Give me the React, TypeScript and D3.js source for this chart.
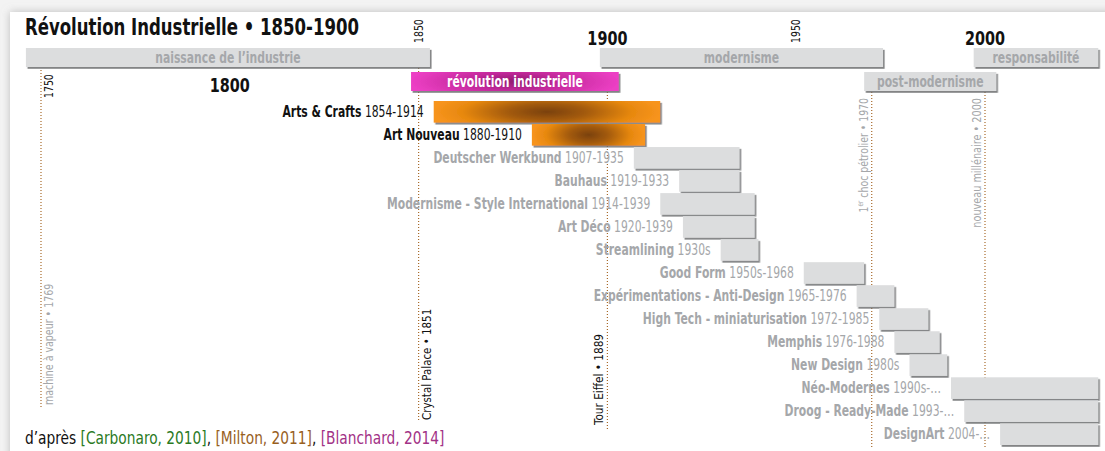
import * as d3 from "d3";
import type { ReactNode } from "react";

const FONT = '"Liberation Sans Narrow", "DejaVu Sans Condensed", "Arial Narrow", sans-serif';
const GREY_TEXT = "#a5a7aa";
const BAR_FILL = "#dcddde";

// époques (bandeaux du haut)
const periodNames = ["naissance de l’industrie", "modernisme", "responsabilité", "révolution industrielle", "post-modernisme"];
const periodStart = [1746, 1898, 1997, 1848, 1968];
const periodEnd = [1853, 1973, 2030, 1903, 2003];
const periodRow = [0, 0, 0, 1, 1];

// mouvements
const movementNames = [
  "Arts & Crafts",
  "Art Nouveau",
  "Deutscher Werkbund",
  "Bauhaus",
  "Modernisme - Style International",
  "Art Déco",
  "Streamlining",
  "Good Form",
  "Expérimentations - Anti-Design",
  "High Tech - miniaturisation",
  "Memphis",
  "New Design",
  "Néo-Modernes",
  "Droog - Ready-Made",
  "DesignArt",
];
const movementDates = [
  "1854-1914", "1880-1910", "1907-1935", "1919-1933", "1914-1939", "1920-1939", "1930s",
  "1950s-1968", "1965-1976", "1972-1985", "1976-1988", "1980s", "1990s-…", "1993-…", "2004-…",
];
const movementStart = [1854, 1880, 1907, 1919, 1914, 1920, 1930, 1952, 1966, 1972, 1976, 1980, 1991, 1994.5, 2004];
const movementEnd = [1914, 1910, 1935, 1935, 1939, 1939, 1940, 1968, 1976, 1985, 1988, 1990, 2030, 2030, 2030];
const highlighted = ["Arts & Crafts", "Art Nouveau"];

// repères
const markerYears = [1750, 1850, 1900, 1970, 2000];
const markerLabels = ["machine à vapeur • 1769", "Crystal Palace • 1851", "Tour Eiffel • 1889", "choc pétrolier • 1970", "nouveau millénaire • 2000"];

const bigYears = [1800, 1900, 2000];
const smallYears = [1750, 1850, 1950];

// texte "condensé" : la police n'existe pas ici, on comprime horizontalement
function CText({ x, y, rotate = 0, sx = 0.8, children, ...rest }: { x: number; y: number; rotate?: number; sx?: number; children: ReactNode; [k: string]: any }) {
  return (
    <text transform={`translate(${x},${y}) rotate(${rotate}) scale(${sx},1)`} {...rest}>
      {children}
    </text>
  );
}

export default function App() {
  const x = d3.scaleLinear().domain([1750, 2000]).range([41, 985]);
  const rows = d3
    .scaleBand<number>()
    .domain(d3.range(movementNames.length))
    .range([101, 445])
    .paddingInner(0.06);
  const periodY = [48, 72];

  const markerStyle = [
    { y1: 70, y2: 407, side: 1, bottom: 405, color: GREY_TEXT, sx: 0.81 },
    { y1: 68, y2: 422, side: 1, bottom: 420, color: "#111", sx: 0.88 },
    { y1: 92, y2: 430, side: -1, bottom: 425, color: "#111", sx: 0.9 },
    { y1: 92, y2: 447, side: -1, top: 98, color: GREY_TEXT, sx: 0.8 },
    { y1: 92, y2: 447, side: -1, top: 98, color: GREY_TEXT, sx: 0.83 },
  ];

  return (
    <div style={{ position: "fixed", left: 0, top: 0 }}>
      <svg width={1105} height={451} style={{ display: "block", fontFamily: FONT }}>
        <defs>
          <filter id="shadow" x="-5%" y="-20%" width="115%" height="160%">
            <feDropShadow dx="1.6" dy="1.8" stdDeviation="0.7" floodColor="#6d6e70" floodOpacity="0.85" />
          </filter>
          <filter id="card" x="-5%" y="-5%" width="110%" height="110%">
            <feDropShadow dx="0" dy="0" stdDeviation="4" floodColor="#999" floodOpacity="0.6" />
          </filter>
          <radialGradient id="orange" cx="0.5" cy="0.5" r="0.5" gradientTransform="translate(0.5,0.5) scale(1,2.2) translate(-0.5,-0.5)">
            <stop offset="0%" stopColor="#7a4108" />
            <stop offset="35%" stopColor="#a45b0c" />
            <stop offset="75%" stopColor="#e7880f" />
            <stop offset="100%" stopColor="#f7941d" />
          </radialGradient>
          <radialGradient id="magenta" cx="0.5" cy="0.5" r="0.5" gradientTransform="translate(0.5,0.5) scale(1,2.2) translate(-0.5,-0.5)">
            <stop offset="0%" stopColor="#901a70" />
            <stop offset="45%" stopColor="#c42a9c" />
            <stop offset="100%" stopColor="#ec3fc4" />
          </radialGradient>
        </defs>

        <rect width={1105} height={451} fill="#f3f3f3" />
        <rect x={10} y={12} width={1105} height={460} fill="#fff" filter="url(#card)" />

        <CText x={25} y={35} fontSize={23} fontWeight="bold" fill="#111">
          Révolution Industrielle • 1850-1900
        </CText>

        {/* lignes repères */}
        {markerYears.map((yr, i) => {
          const s = markerStyle[i];
          const lx = x(yr);
          const tx = lx + s.side * 8 + 4;
          const anchor = s.top !== undefined ? "end" : "start";
          const ty = (s.top !== undefined ? s.top : s.bottom) as number;
          return (
            <g key={"m" + i}>
              <line x1={lx} x2={lx} y1={s.y1} y2={s.y2} stroke="#a86a2a" strokeWidth={1.2} strokeDasharray="1 2" />
              <CText x={tx} y={ty} rotate={-90} sx={s.sx} textAnchor={anchor} fontSize={13} fill={s.color}>
                {i === 3 ? (
                  <>
                    1<tspan fontSize={8} dy={-5}>er</tspan>
                    <tspan dy={5}> {markerLabels[i]}</tspan>
                  </>
                ) : (
                  markerLabels[i]
                )}
              </CText>
            </g>
          );
        })}

        {/* années */}
        {bigYears.map((yr, i) => (
          <CText key={"b" + yr} x={x(yr)} y={i === 0 ? 92 : 45} textAnchor="middle" fontSize={20} fontWeight="bold" fill="#111">
            {yr}
          </CText>
        ))}
        {smallYears.map((yr, i) => (
          <CText key={"s" + yr} x={x(yr) + (i === 0 ? 12 : 4)} y={i === 0 ? 98 : 43} rotate={-90} fontSize={13} fill="#111">
            {yr}
          </CText>
        ))}

        {/* époques */}
        {periodNames.map((name, i) => {
          const x0 = x(periodStart[i]);
          const x1 = x(periodEnd[i]);
          const y0 = periodY[periodRow[i]];
          const isRev = name === "révolution industrielle";
          return (
            <g key={"p" + i}>
              <rect x={x0} y={y0} width={x1 - x0} height={19} fill={isRev ? "url(#magenta)" : BAR_FILL} filter="url(#shadow)" />
              <CText x={(x0 + x1) / 2} y={y0 + 15} textAnchor="middle" fontSize={15} fontWeight="bold" fill={isRev ? "#fff" : GREY_TEXT}>
                {name}
              </CText>
            </g>
          );
        })}

        {/* mouvements */}
        {movementNames.map((name, i) => {
          const x0 = x(movementStart[i]);
          const x1 = x(movementEnd[i]);
          const y0 = rows(i)!;
          const hl = highlighted.includes(name);
          return (
            <g key={"r" + i}>
              <rect x={x0} y={y0} width={x1 - x0} height={rows.bandwidth()} fill={hl ? "url(#orange)" : BAR_FILL} filter="url(#shadow)" />
              <CText x={x0 - 10} y={y0 + 16} textAnchor="end" fontSize={15} fill={hl ? "#111" : GREY_TEXT}>
                <tspan fontWeight="bold">{name}</tspan> {movementDates[i]}
              </CText>
            </g>
          );
        })}

        <CText x={25} y={444} sx={0.9} fontSize={17} fill="#111">
          d’après <tspan fill="#2b7a1f">[Carbonaro, 2010]</tspan>, <tspan fill="#98601e">[Milton, 2011]</tspan>,{" "}
          <tspan fill="#a23286">[Blanchard, 2014]</tspan>
        </CText>
      </svg>
    </div>
  );
}
